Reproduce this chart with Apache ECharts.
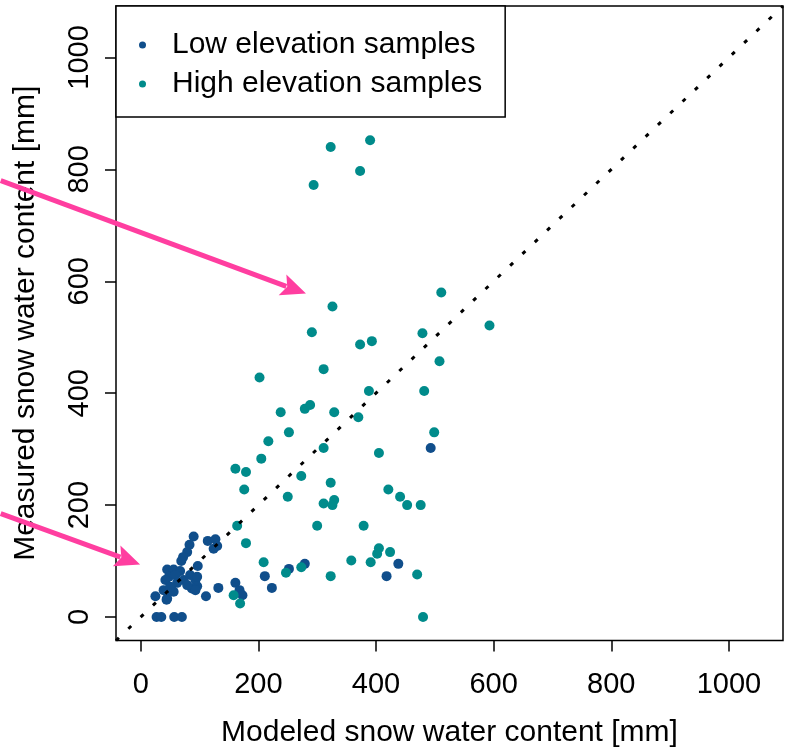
<!DOCTYPE html>
<html>
<head>
<meta charset="utf-8">
<script src="https://cdn.jsdelivr.net/npm/echarts@6/dist/echarts.min.js"></script>
<style>
  html, body { margin: 0; padding: 0; background: #fff; }
  #chart { width: 789px; height: 749px; }
</style>
</head>
<body>
<div id="chart"></div>
<script>
// values, [modeled, measured] in mm
var lowSamples = [
	[493, 302], [438, 95], [418, 73], [211, 73], [223, 52], [279, 95], [252, 86],
	[132, 52], [111, 37], [161, 61], [168, 48], [173, 39],
	[90, 144], [83, 129], [79, 116], [72, 107], [69, 100],
	[114, 136], [127, 139], [130, 127], [124, 122], [97, 91], [96, 55],
	[45, 85], [56, 85], [67, 82], [48, 72], [59, 75], [42, 66], [73, 66],
	[84, 75], [93, 66], [96, 72], [87, 51], [93, 48], [52, 48], [56, 45],
	[39, 48], [62, 61], [79, 57], [25, 37], [44, 31], [45, 33], [50, 54],
	[27, 0], [35, 0], [57, 0], [70, 0]
];
var highSamples = [
	[323, 840], [390, 852], [373, 797], [294, 772],
	[511, 580], [593, 521], [479, 507], [508, 457], [482, 404], [499, 330], [405, 293],
	[326, 555], [291, 509], [373, 487], [393, 493], [311, 443], [202, 428], [388, 404],
	[279, 372], [288, 379], [238, 366], [329, 366], [370, 357], [252, 330], [217, 314],
	[311, 302], [205, 283], [161, 265], [179, 259], [273, 252], [323, 240], [176, 228],
	[421, 228], [250, 215], [441, 215], [453, 200], [476, 200], [311, 203], [329, 209],
	[326, 200], [164, 163], [300, 163], [379, 163], [179, 132], [405, 123], [402, 113],
	[424, 116], [358, 101], [391, 98], [209, 98], [273, 89], [247, 79], [323, 73],
	[470, 76], [158, 39], [169, 24], [480, 0]
];
var oneToOne = [[-42, -42], [1092, 1092]];
var tickValues = [0, 200, 400, 600, 800, 1000];
// magenta arrows, [tail, tip] in data units
var arrows = [
	[[-238, 780], [281, 578]],
	[[-238, 185], [-1, 94]]
];

var font = 'Liberation Sans, Arial, sans-serif';
var chart = echarts.init(document.getElementById('chart'));

function axisOpts(isY) {
	return {
		type: 'value',
		min: -42,
		max: 1092,
		name: isY ? 'Measured snow water content [mm]' : 'Modeled snow water content [mm]',
		nameLocation: 'middle',
		nameGap: isY ? 75 : 77,
		nameMoveOverlap: false,
		nameTextStyle: { fontFamily: font, fontSize: 30, color: '#000' },
		axisLine: { show: false, onZero: false },
		axisTick: {
			show: true, length: 11, inside: false,
			customValues: tickValues,
			lineStyle: { color: '#000', width: 1.5 }
		},
		axisLabel: {
			customValues: tickValues,
			formatter: function (v) { return String(v); },
			rotate: isY ? 90 : 0,
			margin: isY ? 22 : 30,
			fontFamily: font, fontSize: 29, color: '#000'
		},
		splitLine: { show: false }
	};
}

chart.setOption({
	animation: false,
	grid: {
		left: 116, right: 6, top: 6, bottom: 108.5,
		containLabel: false, outerBoundsMode: 'none',
		show: true, borderColor: '#000', borderWidth: 1.5, backgroundColor: '#fff'
	},
	legend: {
		data: ['Low elevation samples', 'High elevation samples'],
		orient: 'vertical',
		left: 116, top: 6,
		padding: [24, 23, 18, 23],
		itemGap: 9,
		icon: 'circle', itemWidth: 7, itemHeight: 7,
		backgroundColor: '#fff', borderColor: '#000', borderWidth: 1.5,
		textStyle: { fontFamily: font, fontSize: 30, lineHeight: 30, color: '#000', padding: [0, 0, 0, 21] }
	},
	xAxis: axisOpts(false),
	yAxis: axisOpts(true),
	series: [{
		name: 'Low elevation samples',
		type: 'scatter',
		symbolSize: 10,
		itemStyle: { color: '#104E8B', opacity: 1 },
		data: lowSamples
	}, {
		name: 'High elevation samples',
		type: 'scatter',
		symbolSize: 10,
		itemStyle: { color: '#008B8B', opacity: 1 },
		data: highSamples
	}, {
		name: '1:1',
		type: 'line',
		symbol: 'none',
		silent: true,
		lineStyle: { color: '#000', width: 3, type: [4, 13], cap: 'butt' },
		data: oneToOne
	}]
});

// arrows drawn on top, positions through the chart's own scales
var shapes = [];
arrows.forEach(function (a) {
	var p0 = chart.convertToPixel({ gridIndex: 0 }, a[0]);
	var p1 = chart.convertToPixel({ gridIndex: 0 }, a[1]);
	var dx = p1[0] - p0[0], dy = p1[1] - p0[1];
	var len = Math.sqrt(dx * dx + dy * dy);
	var ux = dx / len, uy = dy / len;
	var headLen = 25, headW = 11;
	var bx = p1[0] - ux * headLen, by = p1[1] - uy * headLen;
	shapes.push({
		type: 'line', z: 100,
		shape: { x1: p0[0], y1: p0[1], x2: bx + ux * 4, y2: by + uy * 4 },
		style: { stroke: '#FF3EA0', lineWidth: 5 }
	});
	shapes.push({
		type: 'polygon', z: 100,
		shape: { points: [
			[p1[0], p1[1]],
			[bx - uy * headW, by + ux * headW],
			[bx + ux * 5, by + uy * 5],
			[bx + uy * headW, by - ux * headW]
		] },
		style: { fill: '#FF3EA0' }
	});
});
chart.setOption({ graphic: shapes });
</script>
</body>
</html>
